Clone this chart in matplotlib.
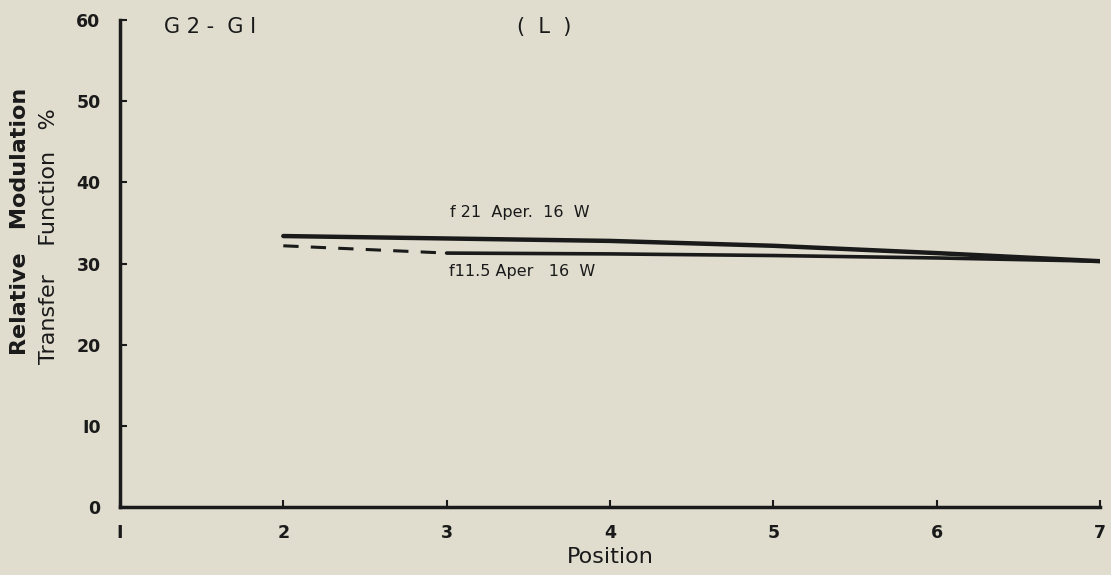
import matplotlib.pyplot as plt

# f21 Aper. 16 W
pos_f21 = [2, 3, 4, 5, 6, 7]
mtf_f21 = [33.4, 33.1, 32.8, 32.2, 31.3, 30.3]

# f11.5 Aper 16 W (dashed between 2 and 3, solid afterwards)
pos_f115_dash = [2, 3]
mtf_f115_dash = [32.2, 31.3]
pos_f115 = [3, 4, 5, 6, 7]
mtf_f115 = [31.3, 31.2, 31.0, 30.7, 30.3]

xticks = [1, 2, 3, 4, 5, 6, 7]
yticks = [0, 10, 20, 30, 40, 50, 60]

bg = '#e0ddcf'
ink = '#1a1a1a'

fig = plt.figure(figsize=(11.11, 5.75), dpi=100, facecolor=bg)
ax = fig.add_axes([0.108, 0.118, 0.882, 0.847])
ax.set_facecolor(bg)

ax.plot(pos_f21, mtf_f21, color=ink, lw=3.2, solid_capstyle='round')
ax.plot(pos_f115_dash, mtf_f115_dash, color=ink, lw=2.2, linestyle=(0, (5, 4)))
ax.plot(pos_f115, mtf_f115, color=ink, lw=2.6, solid_capstyle='round')

ax.text(3.45, 36.3, 'f 21  Aper.  16  W', ha='center', va='center', fontsize=11.5, color=ink)
ax.text(3.46, 29.0, 'f11.5 Aper   16  W', ha='center', va='center', fontsize=11.5, color=ink)
ax.text(1.55, 59.2, 'G 2 -  G I', ha='center', va='center', fontsize=15, color=ink)
ax.text(3.6, 59.2, '(  L  )', ha='center', va='center', fontsize=15, color=ink)

ax.set_xlim(1, 7)
ax.set_ylim(0, 60)
ax.set_xticks(xticks)
ax.set_yticks(yticks)
ax.set_xticklabels(['I', '2', '3', '4', '5', '6', '7'])
ax.set_yticklabels(['0', 'I0', '20', '30', '40', '50', '60'])

for s in ['top', 'right']:
    ax.spines[s].set_visible(False)
for s in ['left', 'bottom']:
    ax.spines[s].set_linewidth(2.5)
    ax.spines[s].set_color(ink)

ax.tick_params(direction='in', length=5, width=1.5, colors=ink, labelsize=12.5)
ax.tick_params(axis='x', pad=12)
ax.tick_params(axis='y', pad=14)
for lbl in ax.get_xticklabels() + ax.get_yticklabels():
    lbl.set_fontweight('bold')

ax.set_xlabel('Position', fontsize=16, color=ink, labelpad=4)

fig.text(0.018, 0.615, 'Relative   Modulation', rotation=90, ha='center', va='center',
         fontsize=16, fontweight='bold', color=ink)
fig.text(0.044, 0.59, 'Transfer    Function   %', rotation=90, ha='center', va='center',
         fontsize=16, color=ink)

fig.savefig('out.png', dpi=100, facecolor=bg)
